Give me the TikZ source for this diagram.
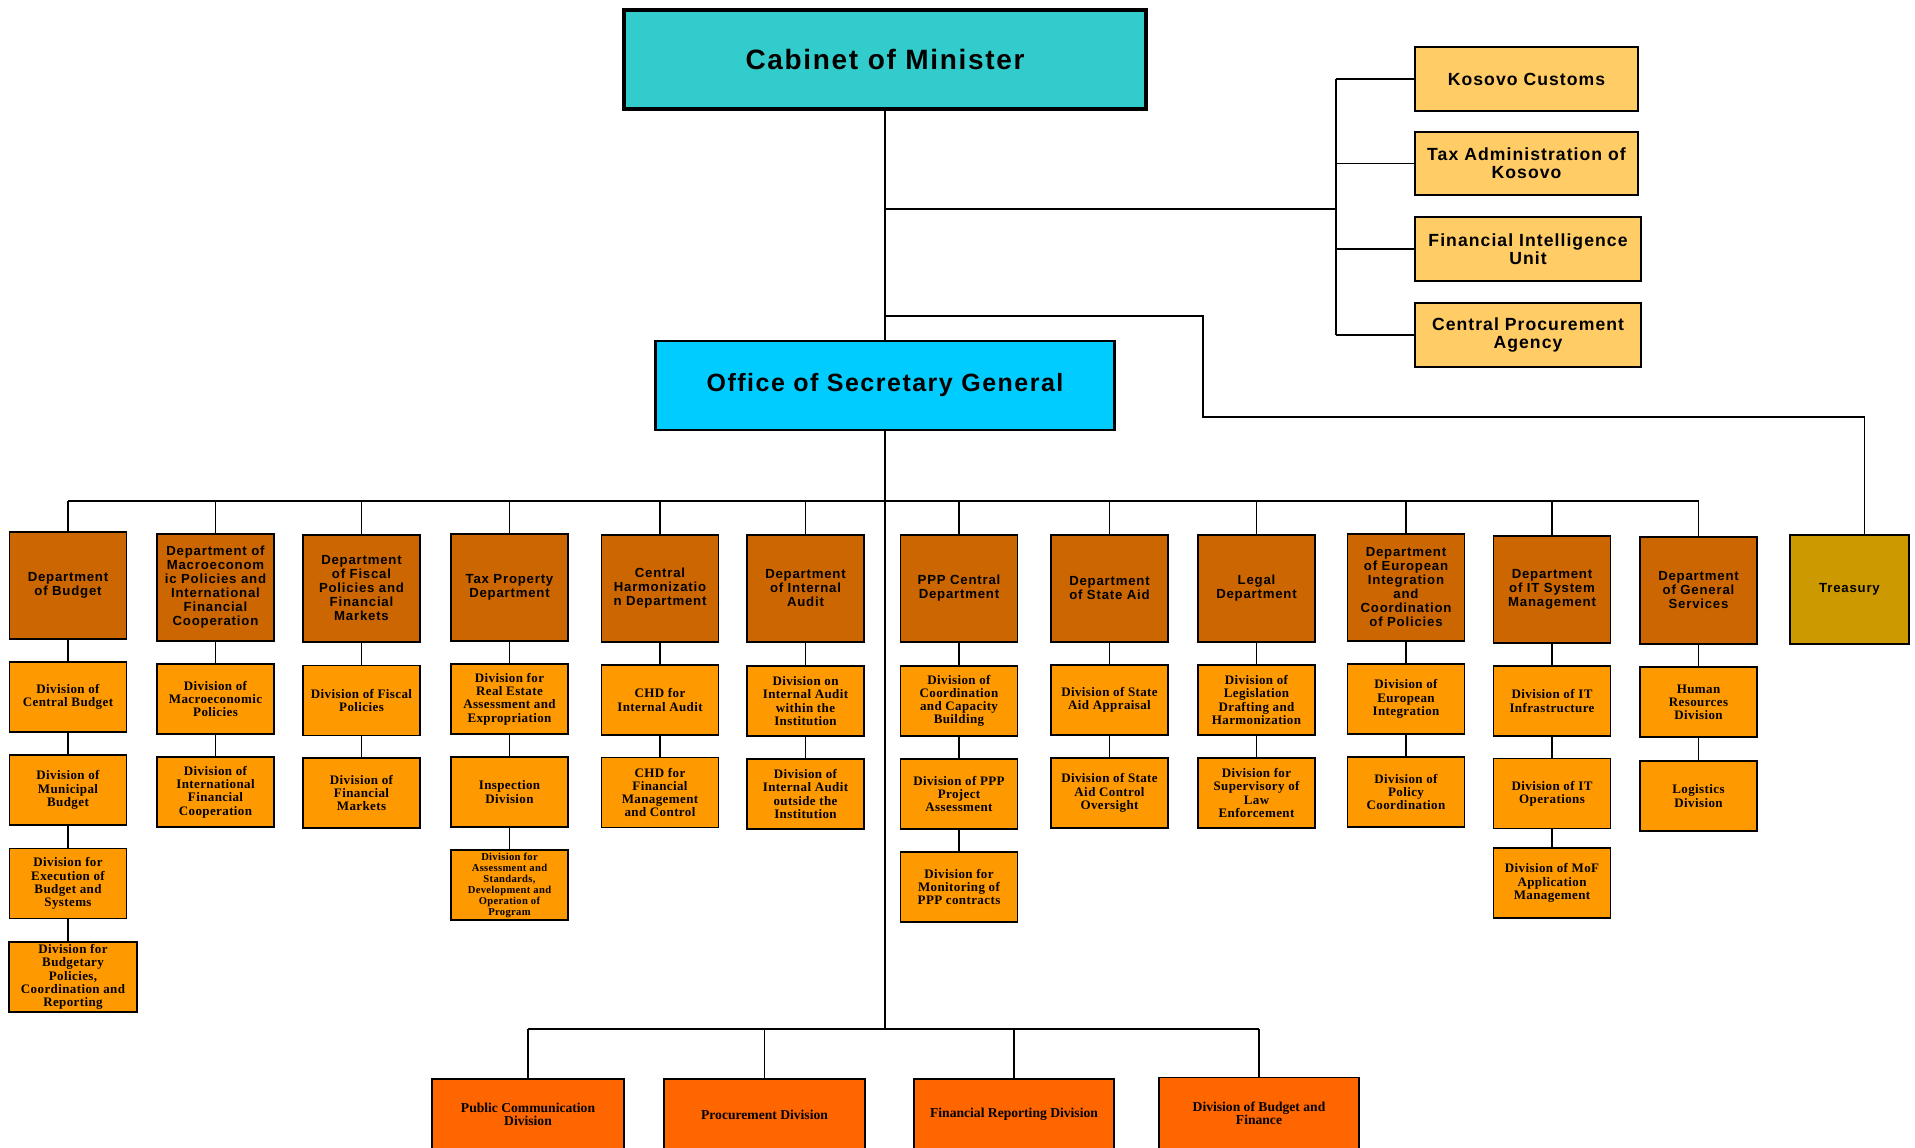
\documentclass[tikz,border=0pt]{standalone}
\usepackage{fontspec}
\setmainfont{Liberation Serif}
\newfontfamily\hsans[LetterSpace=6]{Liberation Sans}
\newfontfamily\hserif[LetterSpace=3]{Liberation Serif}
\usetikzlibrary{calc}
\definecolor{cabc}{HTML}{33CCCC}
\definecolor{osgc}{HTML}{00CCFF}
\definecolor{agc}{HTML}{FFCC66}
\definecolor{deptc}{HTML}{CC6600}
\definecolor{divc}{HTML}{FF9900}
\definecolor{trec}{HTML}{CC9900}
\definecolor{unitc}{HTML}{FF6600}

\begin{document}
\begin{tikzpicture}[x=0.5pt,y=-0.5pt,line width=0.7pt,
		orgbox/.style={draw,line width=0.85pt,align=center,inner sep=1pt},
		dept/.style={orgbox,fill=deptc,minimum width=58.5pt,minimum height=53.5pt,font=\hsans\bfseries\fontsize{6.6}{7}\selectfont},
		divn/.style={orgbox,fill=divc,minimum width=58.5pt,minimum height=35pt,font=\hserif\bfseries\fontsize{6.5}{6.6}\selectfont},
		agency/.style={orgbox,fill=agc,minimum width=112pt,minimum height=32pt,font=\hsans\bfseries\fontsize{8.8}{8.9}\selectfont},
		unit/.style={orgbox,fill=unitc,minimum width=100pt,minimum height=35.5pt,font=\bfseries\fontsize{6.8}{6.4}\selectfont}]
		\path[use as bounding box] (0,0) rectangle (1915,1147);
		\clip (0,0) rectangle (1915,1147);
		\coordinate (ag0) at (885,209); %agencies
		\coordinate (ag1) at (1336,209);
		\coordinate (tr0) at (885,316); %treasury
		\coordinate (tr1) at (1203,417);
		\coordinate (bus) at (885,501); %departments
		\coordinate (bot) at (885,1029); %divisions below
		% top
		\node[orgbox,fill=cabc,line width=1.7pt,minimum width=261pt,minimum height=49.5pt,font=\hsans\bfseries\fontsize{14}{16}\selectfont] (cab) at (885,59.5) {Cabinet of Minister};
		\node[orgbox,fill=osgc,line width=1.4pt,minimum width=229.5pt,minimum height=44.5pt,font=\hsans\bfseries\fontsize{12.5}{14}\selectfont] (osg) at (885,385.5) {Office of Secretary General};
		\node[agency,minimum width=111.5pt] (kc) at (1526.5,79) {Kosovo Customs};
		\node[agency,minimum width=111.5pt,minimum height=31.5pt] (tak) at (1526.5,163.5) {Tax Administration of\\Kosovo};
		\node[agency,minimum width=113pt] (fiu) at (1528,249) {Financial Intelligence\\Unit};
		\node[agency,minimum width=113pt] (cpa) at (1528,335) {Central Procurement\\Agency};
		% departments
		\node[dept] (bud) at (68,585.5) {Department\\of Budget};
		\node[dept] (mac) at (215.5,587.5) {Department of\\Macroeconom\\ic Policies and\\International\\Financial\\Cooperation};
		\node[dept] (fis) at (361.5,588.5) {Department\\of Fiscal\\Policies and\\Financial\\Markets};
		\node[dept] (tpd) at (509.5,587.5) {Tax Property\\Department};
		\node[dept] (chd) at (660,588.5) {Central\\Harmonizatio\\n Department};
		\node[dept] (iad) at (805.5,588.5) {Department\\of Internal\\Audit};
		\node[dept] (ppp) at (959,588.5) {PPP Central\\Department};
		\node[dept] (sad) at (1109.5,588.5) {Department\\of State Aid};
		\node[dept] (leg) at (1256.5,588.5) {Legal\\Department};
		\node[dept] (eur) at (1406,587.5) {Department\\of European\\Integration\\and\\Coordination\\of Policies};
		\node[dept] (its) at (1552,589.5) {Department\\of IT System\\Management};
		\node[dept] (gen) at (1698.5,590.5) {Department\\of General\\Services};
		\node[dept,fill=trec,minimum width=59.5pt,minimum height=54.5pt] (tre) at (1849.5,589.5) {Treasury};
		% divisions
		\node[divn] (b1) at (68,697) {Division of\\Central Budget};
		\node[divn] (b2) at (68,790) {Division of\\Municipal\\Budget};
		\node[divn] (b3) at (68,883.5) {Division for\\Execution of\\Budget and\\Systems};
		\node[divn,minimum width=64pt] (b4) at (73,977) {Division for\\Budgetary\\Policies,\\Coordination and\\Reporting};
		\node[divn] (m1) at (215.5,699) {Division of\\Macroeconomic\\Policies};
		\node[divn] (m2) at (215.5,792) {Division of\\International\\Financial\\Cooperation};
		\node[divn] (f1) at (361.5,700.5) {Division of Fiscal\\Policies};
		\node[divn] (f2) at (361.5,793) {Division of\\Financial\\Markets};
		\node[divn] (t1) at (509.5,699) {Division for\\Real Estate\\Assessment and\\Expropriation};
		\node[divn] (t2) at (509.5,792) {Inspection\\Division};
		\node[divn,font=\hserif\bfseries\fontsize{5.3}{5.5}\selectfont] (t3) at (509.5,885) {Division for\\Assessment and\\Standards,\\Development and\\Operation of\\Program};
		\node[divn] (c1) at (660,700) {CHD for\\Internal Audit};
		\node[divn] (c2) at (660,792.5) {CHD for\\Financial\\Management\\and Control};
		\node[divn] (i1) at (805.5,701) {Division on\\Internal Audit\\within the\\Institution};
		\node[divn] (i2) at (805.5,794) {Division of\\Internal Audit\\outside the\\Institution};
		\node[divn] (p1) at (959,701) {Division of\\Coordination\\and Capacity\\Building};
		\node[divn] (p2) at (959,794) {Division of PPP\\Project\\Assessment};
		\node[divn] (p3) at (959,887) {Division for\\Monitoring of\\PPP contracts};
		\node[divn] (s1) at (1109.5,700) {Division of State\\Aid Appraisal};
		\node[divn] (s2) at (1109.5,793) {Division of State\\Aid Control\\Oversight};
		\node[divn] (l1) at (1256.5,700) {Division of\\Legislation\\Drafting and\\Harmonization};
		\node[divn] (l2) at (1256.5,793) {Division for\\Supervisory of\\Law\\Enforcement};
		\node[divn] (e1) at (1406,699) {Division of\\European\\Integration};
		\node[divn] (e2) at (1406,792) {Division of\\Policy\\Coordination};
		\node[divn] (it1) at (1552,701) {Division of IT\\Infrastructure};
		\node[divn] (it2) at (1552,793.5) {Division of IT\\Operations};
		\node[divn] (it3) at (1552,883) {Division of MoF\\Application\\Management};
		\node[divn] (g1) at (1698.5,702) {Human\\Resources\\Division};
		\node[divn] (g2) at (1698.5,796) {Logistics\\Division};
		% bottom row
		\node[unit,minimum width=96pt] (pcd) at (528,1114.5) {Public Communication\\Division};
		\node[unit,minimum width=100.5pt] (prd) at (764.5,1114.5) {Procurement Division};
		\node[unit] (frd) at (1014,1114.5) {Financial Reporting Division};
		\node[unit] (dbf) at (1259,1113) {Division of Budget and\\Finance};
		% connectors
		\draw (cab.south) -- (osg.north); %trunk
		\draw (osg.south) -- (bot);
		\draw (ag0) -- (ag1);
		\draw (kc.west -| ag1) -- (cpa.west -| ag1);
		\foreach \a in {kc,tak,fiu,cpa}
			\draw (\a.west) -- (\a.west -| ag1);
		\draw (tr0) -| (tr1) -| ([xshift=7.5pt]tre.north);
		\draw (bud.north |- bus) -- (gen.north |- bus);
		\foreach \d in {bud,mac,fis,tpd,chd,iad,ppp,sad,leg,eur,its,gen}
			\draw (\d.north) -- (\d.north |- bus);
		\foreach \a/\b in {bud/b1,b1/b2,b2/b3,b3/b4,mac/m1,m1/m2,fis/f1,f1/f2,tpd/t1,t1/t2,t2/t3,chd/c1,c1/c2,iad/i1,i1/i2,ppp/p1,p1/p2,p2/p3,sad/s1,s1/s2,leg/l1,l1/l2,eur/e1,e1/e2,its/it1,it1/it2,it2/it3,gen/g1,g1/g2}
			\draw (\a.south) -- (\a.south |- \b.north);
		\draw (pcd.north |- bot) -- (dbf.north |- bot);
		\foreach \d in {pcd,prd,frd,dbf}
			\draw (\d.north) -- (\d.north |- bot);
	\end{tikzpicture}
\end{document}
